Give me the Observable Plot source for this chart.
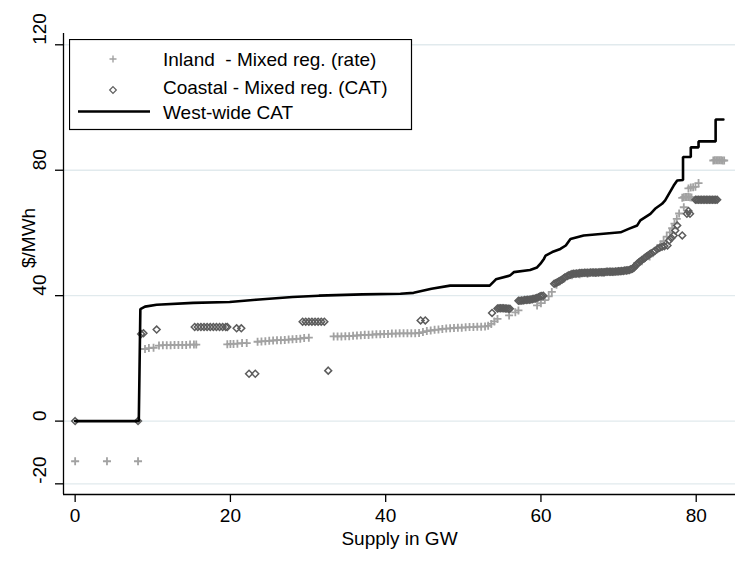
<!DOCTYPE html>
<html>
<head>
<meta charset="utf-8">
<script src="https://cdn.jsdelivr.net/npm/d3@7"></script>
<script src="https://cdn.jsdelivr.net/npm/@observablehq/plot@0.6"></script>
<style>
  body { margin: 0; background: #fff; }
  #wrap { position: relative; width: 744px; height: 566px; font-family: "Liberation Sans", Arial, Helvetica, sans-serif; }
  #legend { position: absolute; left: 69px; top: 39px; }
</style>
</head>
<body>
<div id="wrap"><div id="chart"></div><div id="legend"></div></div>
<script>
// ---- axes ----
const xDomain = [-1.5, 85.06];
const yDomain = [-23.4, 123.6];
const xTicks = [0, 20, 40, 60, 80];
const yTicks = [-20, 0, 40, 80, 120];
const xTitle = "Supply in GW";
const yTitle = "$/MWh";
const seriesNames = ["Inland  - Mixed reg. (rate)", "Coastal - Mixed reg. (CAT)", "West-wide CAT"];

// ---- Inland - Mixed reg. (rate) : light gray plus ----
const inlandX = [0, 4.1, 8.1, 9.0, 9.5, 10.1, 10.8, 11.3, 11.8, 12.3, 12.8, 13.3, 13.8, 14.3, 14.8, 15.3, 15.6,
  19.6, 20.0, 20.4, 20.9, 21.5, 22.1, 23.5, 24.0, 24.5, 25.0, 25.5, 26.0, 26.5, 27.0, 27.5, 28.0, 28.5, 29.0, 29.5, 30.1,
  33.3, 33.8, 34.3, 34.8, 35.3, 35.8, 36.3, 36.8, 37.3, 37.8, 38.3, 38.8, 39.3, 39.8, 40.3, 40.8, 41.3, 41.8, 42.3, 42.8,
  43.3, 43.8, 44.3, 44.8, 45.3, 45.8, 46.3, 46.8, 47.3, 47.8, 48.3, 48.8, 49.3, 49.8, 50.3, 50.8, 51.3, 51.8, 52.3, 52.8,
  53.2, 53.6, 54.0, 54.4, 55.9, 56.7, 57.1, 59.5, 60.0, 60.5, 61.0, 61.4, 62.0, 63.0, 64.0, 65.0, 66.0, 67.0, 68.0, 69.0,
  70.0, 71.0, 72.0, 73.0, 74.0, 75.0, 75.4, 75.8, 76.2, 76.6, 76.9, 77.2, 77.5, 77.8, 78.4,
  78.2, 78.4, 78.6, 78.8, 79.0, 79.2, 79.4,
  79.0, 79.3, 79.6, 79.9, 80.3, 82.2, 82.4, 82.6, 82.8, 83.0, 83.2, 83.4, 83.6];
const inlandY = [-12.8, -12.8, -12.8, 23.0, 23.3, 23.4, 24.1, 24.2, 24.2, 24.2, 24.3, 24.3, 24.3, 24.3, 24.4, 24.4, 24.4,
  24.5, 24.6, 24.6, 24.7, 24.9, 24.9, 25.3, 25.4, 25.5, 25.6, 25.7, 25.8, 25.8, 25.9, 26.0, 26.1, 26.2, 26.3, 26.5, 26.6,
  27.0, 27.0, 27.0, 27.1, 27.1, 27.2, 27.3, 27.4, 27.5, 27.5, 27.6, 27.7, 27.7, 27.8, 27.8, 27.9, 27.9, 28.0, 28.0, 28.0,
  28.0, 28.0, 28.1, 28.4, 28.7, 28.9, 29.1, 29.2, 29.4, 29.5, 29.6, 29.7, 29.8, 29.8, 29.9, 30.0, 30.0, 30.1, 30.1, 30.2,
  30.4, 31.0, 31.8, 32.6, 33.7, 34.7, 35.3, 36.9, 37.6, 38.6, 39.8, 41.2, 43.5, 45.5, 46.5, 46.8, 47.0, 47.2, 47.4, 47.6,
  47.8, 48.0, 49.5, 51.0, 52.5, 55.0, 56.2, 57.4, 58.8, 60.2, 61.5, 63.0, 64.5, 66.2, 68.2,
  71.2, 71.4, 71.5, 71.5, 71.5, 71.4, 71.3,
  74.2, 74.5, 74.6, 74.7, 75.9, 83.1, 83.2, 83.2, 83.2, 83.2, 83.2, 83.1, 83.1];

// ---- Coastal - Mixed reg. (CAT) : dark gray hollow diamond ----
const coastalX = [0, 8.1, 8.5, 8.8, 10.5, 15.4, 15.8, 16.2, 16.6, 17.0, 17.4, 17.8, 18.2, 18.6, 19.0, 19.4, 19.6,
  20.8, 21.4, 22.4, 23.2, 29.3, 29.7, 30.1, 30.5, 30.9, 31.3, 31.7, 32.1, 32.6, 44.5, 45.1, 53.7,
  54.4, 54.6, 54.8, 55.0, 55.2, 55.4, 55.6, 55.8, 56.0,
  57.1, 57.3, 57.5, 57.7, 57.9, 58.1, 58.3, 58.5, 58.7, 58.9, 59.1, 59.3, 59.5, 59.7, 59.9, 60.1, 60.3,
  61.7, 61.9, 62.1, 62.3, 62.5, 62.7, 62.9, 63.1, 63.4, 63.6, 63.8, 64.0, 64.2, 64.4, 64.6, 64.8, 65.0, 65.2, 65.4, 65.6,
  65.8, 66.0, 66.2, 66.4, 66.6, 66.8, 67.0, 67.2, 67.4, 67.6, 67.8, 68.0, 68.2, 68.4, 68.6, 68.8, 69.0, 69.2, 69.4, 69.6,
  69.8, 70.0, 70.2, 70.4, 70.6, 70.8, 71.0, 71.2, 71.4, 71.6, 71.8, 72.0, 72.1, 72.3, 72.4, 72.6, 72.8, 73.0, 73.25, 73.4,
  73.6, 73.8, 74.0, 74.2, 74.5, 74.7, 75.0, 75.3, 75.6, 75.9, 76.3, 76.5, 76.8, 77.1, 77.3, 77.55, 78.2, 78.8, 79.0, 79.2,
  79.9, 80.1, 80.3, 80.5, 80.7, 80.9, 81.1, 81.3, 81.5, 81.7, 81.9, 82.1, 82.3, 82.5, 82.7];
const coastalY = [0, 0, 27.8, 28.0, 29.2, 30.0, 30.0, 30.0, 30.0, 30.0, 30.0, 30.0, 30.0, 30.0, 30.0, 30.0, 30.0,
  29.6, 29.6, 15.1, 15.1, 31.7, 31.7, 31.7, 31.7, 31.7, 31.7, 31.7, 31.7, 16.1, 32.1, 32.1, 34.5,
  35.9, 36.0, 36.0, 36.0, 36.0, 35.9, 35.9, 35.8, 35.8,
  38.4, 38.4, 38.5, 38.5, 38.6, 38.6, 38.7, 38.7, 38.8, 38.9, 39.0, 39.1, 39.3, 39.5, 39.8, 39.9, 40.0,
  43.8, 44.0, 44.3, 44.5, 44.8, 45.1, 45.5, 45.9, 46.3, 46.5, 46.7, 46.9, 47.0, 47.0, 47.1, 47.1, 47.2, 47.2, 47.2, 47.3,
  47.3, 47.3, 47.3, 47.4, 47.4, 47.4, 47.4, 47.4, 47.4, 47.5, 47.5, 47.5, 47.5, 47.6, 47.6, 47.6, 47.6, 47.6, 47.6, 47.7,
  47.7, 47.8, 47.8, 47.9, 47.9, 48.0, 48.0, 48.1, 48.2, 48.4, 48.6, 49.0, 49.4, 49.8, 50.2, 50.6, 51.0, 51.4, 51.8, 52.1,
  52.5, 52.8, 53.2, 53.5, 53.9, 54.3, 54.9, 55.3, 55.6, 55.8, 56.0, 57.6, 58.4, 59.2, 60.8, 62.4, 59.2, 66.1, 67.0, 66.1,
  70.6, 70.6, 70.6, 70.6, 70.6, 70.6, 70.6, 70.6, 70.6, 70.6, 70.6, 70.6, 70.6, 70.6, 70.6];

// ---- West-wide CAT : black step line ----
const westX = [0, 8.2, 8.4, 9.0, 10.5, 15.2, 19.9, 23.3, 28.0, 31.4, 37.0, 41.9, 43.6, 45.9, 48.3, 53.4, 54.2, 56.0, 56.5,
  58.6, 59.5, 59.94, 60.4, 60.6, 61.45, 62.5, 63.2, 63.8, 65.5, 70.25, 71.3, 72.4, 72.8, 74.1, 74.7, 75.6, 76.0, 77.1,
  77.55, 78.3, 78.3, 79.3, 79.3, 80.3, 80.3, 82.5, 82.5, 83.5];
const westY = [0, 0, 35.7, 36.5, 37.1, 37.7, 38.0, 38.7, 39.6, 40.0, 40.4, 40.6, 40.9, 42.2, 43.2, 43.2, 45.2, 46.4, 47.5,
  48.2, 49.0, 50.2, 51.8, 52.8, 53.9, 54.9, 56.0, 58.1, 59.2, 60.2, 61.3, 62.4, 64.0, 66.1, 67.7, 69.3, 70.4, 75.1,
  76.7, 76.9, 84.2, 84.2, 87.3, 87.3, 89.2, 89.2, 96.2, 96.2];

const inland = inlandX.map((x, i) => ({x, y: inlandY[i]}));
const coastal = coastalX.map((x, i) => ({x, y: coastalY[i]}));
const west = westX.map((x, i) => ({x, y: westY[i]}));

const FONT = "Liberation Sans, Arial, Helvetica, sans-serif";
const plusColor = "#a2a2a2";
const diaColor = "#5c5c5c";

const chart = Plot.plot({
  width: 744,
  height: 566,
  marginLeft: 63,
  marginRight: 9,
  marginTop: 33,
  marginBottom: 72,
  style: {fontFamily: FONT, fontSize: "19px", background: "white", color: "black"},
  x: {domain: xDomain},
  y: {domain: yDomain},
  marks: [
    Plot.gridY(yTicks, {stroke: "#e1eaed", strokeOpacity: 1, strokeWidth: 1.4}),
    Plot.ruleX([xDomain[0]], {stroke: "black", strokeWidth: 1.3}),
    Plot.ruleY([yDomain[0]], {stroke: "black", strokeWidth: 1.3}),
    Plot.axisX(xTicks, {tickSize: 8, tickPadding: 6, tickFormat: d => String(d), label: null, fontSize: 19, strokeWidth: 1.3}),
    Plot.axisY(yTicks, {tickSize: 8, tickFormat: () => "", label: null, strokeWidth: 1.3}),
    Plot.text(yTicks, {y: d => d, text: d => String(d), frameAnchor: "left", rotate: -90, dx: -24, fontSize: 19}),
    Plot.text([xTitle], {text: d => d, frameAnchor: "bottom", dy: 50, fontSize: 19}),
    Plot.text([yTitle], {text: d => d, frameAnchor: "left", rotate: -90, dx: -35, dy: 4, fontSize: 19}),
    Plot.dot(inland, {x: "x", y: "y", symbol: "plus", r: 2.7, stroke: plusColor, strokeWidth: 1.8}),
    Plot.dot(coastal, {x: "x", y: "y", symbol: "diamond2", r: 3.1, stroke: diaColor, strokeWidth: 1.5, fill: "none"}),
    Plot.line(west, {x: "x", y: "y", stroke: "black", strokeWidth: 2.6, strokeLinejoin: "miter"})
  ]
});
document.getElementById("chart").appendChild(chart);

// ---- legend (boxed, top-left inside plot area) ----
const lg = d3.select("#legend").append("svg").attr("width", 344).attr("height", 92)
  .style("font-family", FONT).style("font-size", "19px");
lg.append("rect").attr("x", 0.5).attr("y", 0.5).attr("width", 342).attr("height", 90)
  .attr("fill", "white").attr("stroke", "black").attr("stroke-width", 1.2);
const rowsY = [27, 54.5, 80];
const symY = [20, 51, 72.5];
lg.append("path").attr("d", d3.symbol(d3.symbolPlus, Math.PI * 2.4 * 2.4)())
  .attr("transform", `translate(44,${symY[0]})`).attr("fill", "none").attr("stroke", plusColor).attr("stroke-width", 1.4);
lg.append("path").attr("d", d3.symbol(d3.symbolDiamond2, Math.PI * 3.0 * 3.0)())
  .attr("transform", `translate(44,${symY[1]})`).attr("fill", "none").attr("stroke", diaColor).attr("stroke-width", 1.2);
lg.append("line").attr("x1", 9).attr("x2", 81).attr("y1", symY[2]).attr("y2", symY[2])
  .attr("stroke", "black").attr("stroke-width", 2.6);
seriesNames.forEach((t, i) => {
  lg.append("text").attr("x", 94).attr("y", rowsY[i]).attr("xml:space", "preserve")
    .style("white-space", "pre").text(t);
});
</script>
</body>
</html>
